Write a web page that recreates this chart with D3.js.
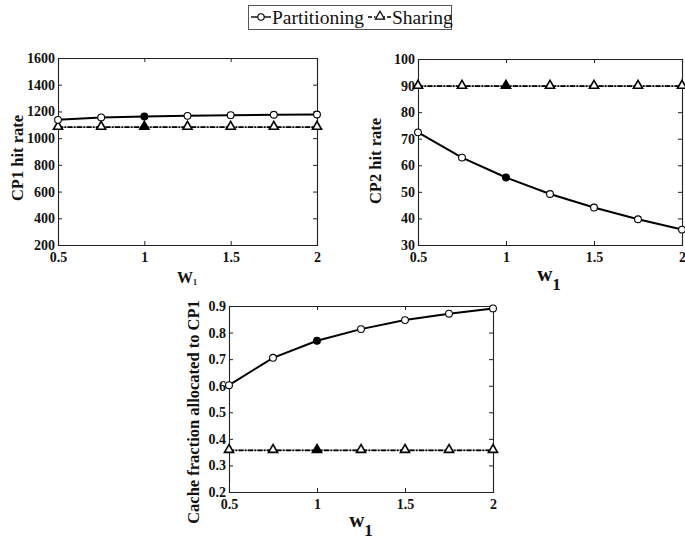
<!DOCTYPE html>
<html>
<head>
<meta charset="utf-8">
<script src="https://cdn.jsdelivr.net/npm/d3@7"></script>
<style>
  body { margin: 0; background: #fff; }
  svg { display: block; }
</style>
</head>
<body>
<script>
// data
const w1 = [0.5, 0.75, 1, 1.25, 1.5, 1.75, 2];
const cp1Partitioning = [1137, 1155, 1162, 1167, 1172, 1175, 1177];
const cp1Sharing = [1082, 1082, 1082, 1082, 1082, 1082, 1082];
const cp2Partitioning = [72.4, 62.9, 55.4, 49.2, 44.1, 39.7, 35.8];
const cp2Sharing = [89.8, 89.8, 89.8, 89.8, 89.8, 89.8, 89.8];
const fracPartitioning = [0.602, 0.705, 0.769, 0.813, 0.847, 0.871, 0.891];
const fracSharing = [0.357, 0.357, 0.357, 0.357, 0.357, 0.357, 0.357];
const xTicks = [0.5, 1, 1.5, 2];
const cp1Ticks = [200, 400, 600, 800, 1000, 1200, 1400, 1600];
const cp2Ticks = [30, 40, 50, 60, 70, 80, 90, 100];
const fracTicks = [0.2, 0.3, 0.4, 0.5, 0.6, 0.7, 0.8, 0.9];

const serif = "'Liberation Serif', Tinos, 'Times New Roman', Times, 'DejaVu Serif', serif";
const width = 685, height = 539;
const svg = d3.select("body").append("svg")
    .attr("width", width).attr("height", height)
    .attr("font-family", serif);

const panels = [
  { left: 58, right: 317, top: 58, bottom: 245, dom: [200, 1600], ticks: cp1Ticks,
    part: cp1Partitioning, share: cp1Sharing, ylab: "CP1 hit rate", ylx: 17, yly: 158,
    small: true, xlx: 187, xly: 283 },
  { left: 418, right: 682, top: 59, bottom: 245, dom: [30, 100], ticks: cp2Ticks,
    part: cp2Partitioning, share: cp2Sharing, ylab: "CP2 hit rate", ylx: 375, yly: 161,
    small: false, xlx: 549, xly: 281 },
  { left: 229, right: 493, top: 306, bottom: 492, dom: [0.2, 0.9], ticks: fracTicks,
    part: fracPartitioning, share: fracSharing, ylab: "Cache fraction allocated to CP1", ylx: 193, yly: 412,
    small: false, xlx: 361, xly: 527 }
];

const tri = d3.symbol().type(d3.symbolTriangle).size(36);

panels.forEach(function(p) {
  const x = d3.scaleLinear().domain([0.5, 2]).range([p.left, p.right]);
  const y = d3.scaleLinear().domain(p.dom).range([p.bottom, p.top]);
  const g = svg.append("g");
  const fmt = d3.format("");

  // inside ticks on all four sides (matlab box)
  const tk = 4;
  g.append("g").attr("transform", "translate(0," + p.bottom + ")")
    .call(d3.axisBottom(x).tickValues(xTicks).tickSize(-tk).tickPadding(7).tickFormat(fmt));
  g.append("g").attr("transform", "translate(0," + p.top + ")")
    .call(d3.axisTop(x).tickValues(xTicks).tickSize(-tk).tickFormat(""));
  g.append("g").attr("transform", "translate(" + p.left + ",0)")
    .call(d3.axisLeft(y).tickValues(p.ticks).tickSize(-tk).tickPadding(3).tickFormat(fmt));
  g.append("g").attr("transform", "translate(" + p.right + ",0)")
    .call(d3.axisRight(y).tickValues(p.ticks).tickSize(-tk).tickFormat(""));
  g.selectAll("g").attr("font-family", serif);
  g.selectAll(".domain").attr("stroke", "#222").attr("stroke-width", 1.1);
  g.selectAll(".tick line").attr("stroke", "#222");
  g.selectAll(".tick text").attr("fill", "#111")
    .style("font-size", "14px").style("font-weight", "bold");

  // sharing line (dash-dot)
  const pts = w1.map((d, i) => [x(d), y(p.share[i])]);
  g.append("path").attr("d", d3.line()(pts))
    .attr("fill", "none").attr("stroke", "#999").attr("stroke-width", 1.6);
  g.append("path").attr("d", d3.line()(pts))
    .attr("fill", "none").attr("stroke", "#000").attr("stroke-width", 1.8)
    .attr("stroke-dasharray", "5,1.5,1.5,1.5");
  g.selectAll(".tri").data(w1).join("path")
    .attr("transform", (d, i) => "translate(" + x(d) + "," + (y(p.share[i]) - 0.5) + ")")
    .attr("d", tri)
    .attr("fill", d => d == 1 ? "#000" : "#fff")
    .attr("stroke", "#000").attr("stroke-width", 1.6);

  // partitioning line
  g.append("path").attr("d", d3.line().x(d => x(d)).y((d, i) => y(p.part[i]))(w1))
    .attr("fill", "none").attr("stroke", "#000").attr("stroke-width", 2);
  g.selectAll(".circ").data(w1).join("circle")
    .attr("cx", d => x(d)).attr("cy", (d, i) => y(p.part[i])).attr("r", 3.4)
    .attr("fill", d => d == 1 ? "#000" : "#fff")
    .attr("stroke", "#000").attr("stroke-width", 1.1);

  // y label
  g.append("text")
    .attr("transform", "translate(" + p.ylx + "," + p.yly + ") rotate(-90)")
    .attr("text-anchor", "middle").attr("dominant-baseline", "central")
    .style("font-size", "16.5px").style("font-weight", "bold").attr("fill", "#111")
    .text(p.ylab);

  // x label
  const xl = g.append("text").attr("x", p.xlx).attr("y", p.xly)
    .attr("text-anchor", "middle").style("font-weight", "bold").attr("fill", "#111");
  if (p.small) {
    xl.append("tspan").style("font-size", "16px").text("W");
    xl.append("tspan").attr("dy", 2).style("font-size", "8px").text("1");
  } else {
    xl.append("tspan").style("font-size", "21px").text("w");
    xl.append("tspan").attr("dy", 9).style("font-size", "17px").text("1");
  }
});

// legend
const lg = svg.append("g");
lg.append("rect").attr("x", 248.5).attr("y", 5.5).attr("width", 203).attr("height", 24)
  .attr("fill", "#fff").attr("stroke", "#555").attr("stroke-width", 1);
lg.append("line").attr("x1", 251).attr("x2", 271).attr("y1", 17).attr("y2", 17)
  .attr("stroke", "#000").attr("stroke-width", 1.4);
lg.append("circle").attr("cx", 261).attr("cy", 17).attr("r", 3.2)
  .attr("fill", "#fff").attr("stroke", "#000").attr("stroke-width", 1.1);
lg.append("text").attr("x", 272).attr("y", 24).style("font-size", "19.5px").attr("fill", "#111")
  .text("Partitioning");
lg.append("line").attr("x1", 368).attr("x2", 391).attr("y1", 17).attr("y2", 17)
  .attr("stroke", "#000").attr("stroke-width", 1.4).attr("stroke-dasharray", "4,2,1.5,2");
lg.append("path").attr("transform", "translate(380,16.5)").attr("d", tri)
  .attr("fill", "#fff").attr("stroke", "#000").attr("stroke-width", 1.2);
lg.append("text").attr("x", 392).attr("y", 24).style("font-size", "19.5px").attr("fill", "#111")
  .text("Sharing");
</script>
</body>
</html>
